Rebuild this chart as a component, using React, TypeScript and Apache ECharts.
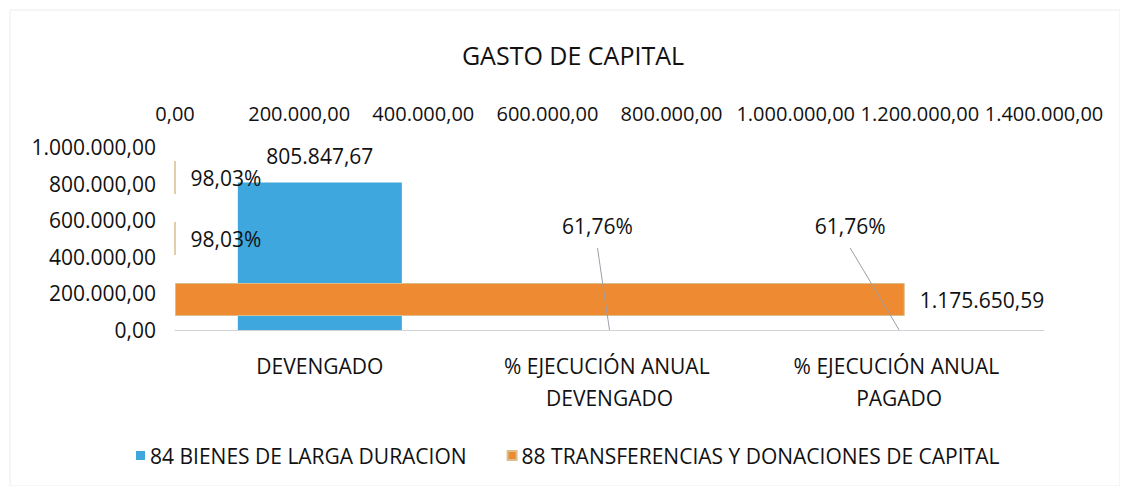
import React, { useEffect, useRef } from "react";
import * as echarts from "echarts";

const categories = ["DEVENGADO", "% EJECUCIÓN ANUAL DEVENGADO", "% EJECUCIÓN ANUAL PAGADO"];
const bienesLargaDuracion = [805847.67, 0.6176, 0.6176];
const transferenciasDonaciones = [1175650.59, 0.9803, 0.9803];
const seriesNames = ["84 BIENES DE LARGA DURACION", "88 TRANSFERENCIAS Y DONACIONES DE CAPITAL"];
const leftAxisTicks = { min: 0, max: 1000000, interval: 200000 };
const topAxisTicks = { min: 0, max: 1400000, interval: 200000 };

// label displacement (pixels) of the moved percentage labels, per category index
const movedLabelOffsets: Record<number, [number, number]> = { 1: [-12, -77], 2: [-49, -77] };

const FONT = "'Open Sans', 'Noto Sans', sans-serif";
const TEXT = "#111111";

function fmtNum(v: number): string {
  const [i, d] = v.toFixed(2).split(".");
  return i.replace(/\B(?=(\d{3})+(?!\d))/g, ".") + "," + d;
}
function fmtLabel(v: number): string {
  if (v < 1) return (v * 100).toFixed(2).replace(".", ",") + "%";
  return fmtNum(v);
}

export default function App() {
  const ref = useRef<HTMLDivElement>(null);
  useEffect(() => {
    if (!ref.current) return;
    const chart = echarts.init(ref.current, undefined, { renderer: "svg" });
    const leaderData = bienesLargaDuracion
      .map((v, i) => [i, v])
      .filter((d) => movedLabelOffsets[d[0] as number] !== undefined);
    chart.setOption({
      animation: false,
      backgroundColor: "#ffffff",
      textStyle: { fontFamily: FONT },
      title: {
        text: "GASTO DE CAPITAL",
        left: 573,
        textAlign: "center",
        top: 42,
        padding: 0,
        textStyle: { fontFamily: FONT, fontSize: 25, fontWeight: "normal", color: TEXT },
      },
      graphic: [
        {
          type: "rect",
          shape: { x: 10, y: 10, width: 1110, height: 476 },
          style: { fill: "none", stroke: "#ececec", lineWidth: 1 },
          silent: true,
          z: -1,
        },
      ],
      legend: {
        left: 136,
        top: 445,
        padding: 0,
        itemWidth: 9,
        itemHeight: 9,
        itemGap: 40,
        icon: "rect",
        textStyle: { fontFamily: FONT, fontSize: 21, color: TEXT },
        data: seriesNames,
      },
      grid: { left: 175, right: 84, top: 147, bottom: 164, outerBoundsMode: "none" },
      xAxis: [
        {
          type: "category",
          data: categories,
          position: "bottom",
          axisLine: { show: true, lineStyle: { color: "#d0d3d8", width: 1 } },
          axisTick: { show: false },
          axisLabel: {
            interval: 0,
            margin: 20,
            width: 240,
            overflow: "break",
            lineHeight: 32,
            fontFamily: FONT,
            fontSize: 21,
            color: TEXT,
          },
        },
        {
          type: "value",
          position: "top",
          min: topAxisTicks.min,
          max: topAxisTicks.max,
          interval: topAxisTicks.interval,
          axisLine: { show: false },
          axisTick: { show: false },
          splitLine: { show: false },
          axisLabel: {
            margin: 24,
            showMinLabel: true,
            showMaxLabel: true,
            hideOverlap: false,
            fontFamily: FONT,
            fontSize: 20,
            color: TEXT,
            formatter: (v: number) => fmtNum(v),
          },
        },
      ],
      yAxis: [
        {
          type: "value",
          position: "left",
          min: leftAxisTicks.min,
          max: leftAxisTicks.max,
          interval: leftAxisTicks.interval,
          axisLine: { show: false },
          axisTick: { show: false },
          splitLine: { show: false },
          axisLabel: {
            margin: 19,
            fontFamily: FONT,
            fontSize: 21,
            color: TEXT,
            formatter: (v: number) => fmtNum(v),
          },
        },
        {
          type: "category",
          data: categories,
          position: "right",
          show: false,
        },
      ],
      series: [
        {
          name: seriesNames[0],
          type: "bar",
          xAxisIndex: 0,
          yAxisIndex: 0,
          data: bienesLargaDuracion,
          barWidth: 164,
          itemStyle: { color: "#3ea7dd" },
          label: {
            show: true,
            position: "top",
            distance: 16,
            fontFamily: FONT,
            fontSize: 21,
            color: TEXT,
            formatter: (p: any) => fmtLabel(p.value),
          },
          labelLayout: (p: any) => {
            const o = movedLabelOffsets[p.dataIndex];
            return o ? { dx: o[0], dy: o[1] } : {};
          },
          z: 2,
        },
        {
          name: seriesNames[1],
          type: "bar",
          xAxisIndex: 1,
          yAxisIndex: 1,
          data: transferenciasDonaciones,
          barWidth: 33,
          itemStyle: { color: "#ee8b32", borderColor: "#d8bf8c", borderWidth: 1 },
          label: {
            show: true,
            position: "right",
            distance: 15,
            fontFamily: FONT,
            fontSize: 21,
            color: TEXT,
            formatter: (p: any) => fmtLabel(p.value),
          },
          z: 3,
        },
        {
          name: "leader",
          type: "custom",
          xAxisIndex: 0,
          yAxisIndex: 0,
          data: leaderData,
          silent: true,
          z: 5,
          renderItem: (params: any, api: any) => {
            const idx = api.value(0);
            const p = api.coord([idx, api.value(1)]);
            const o = movedLabelOffsets[idx] || [0, 0];
            return {
              type: "line",
              shape: { x1: p[0] + o[0], y1: p[1] + o[1] - 5, x2: p[0], y2: p[1] },
              style: { stroke: "#9aa0a8", lineWidth: 1 },
            };
          },
        },
      ],
    });
    return () => chart.dispose();
  }, []);
  return <div ref={ref} style={{ width: 1128, height: 494, margin: -8 }} />;
}
